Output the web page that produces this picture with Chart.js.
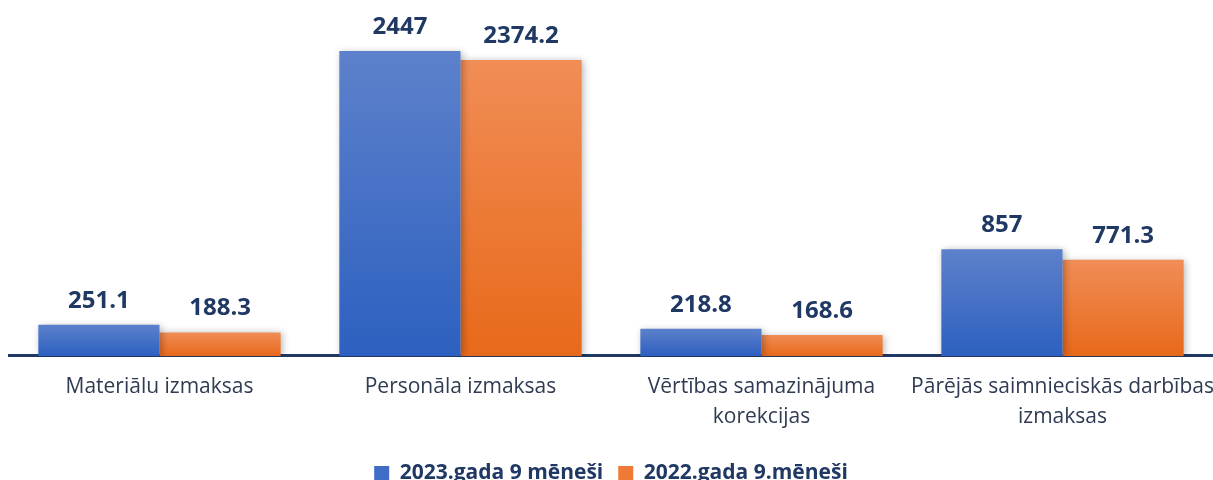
<!DOCTYPE html>
<html>
<head>
<meta charset="utf-8">
<script src="https://cdn.jsdelivr.net/npm/chart.js@4.4.0/dist/chart.umd.js"></script>
<style>
  html, body { margin: 0; padding: 0; background: #fff; overflow: hidden; }
  #wrap { position: relative; width: 1213px; height: 494px; }
</style>
</head>
<body>
<div id="wrap"><canvas id="chart"></canvas></div>
<script>
const categories = [
    'Materiālu izmaksas',
    'Personāla izmaksas',
    ['Vērtības samazinājuma', 'korekcijas'],
    ['Pārējās saimnieciskās darbības', 'izmaksas']
];
const series2023 = [251.1, 2447, 218.8, 857];
const series2022 = [188.3, 2374.2, 168.6, 771.3];
const seriesNames = ['2023.gada 9 mēneši', '2022.gada 9.mēneši'];

const navy = '#203864';
const fontFamily = "'Open Sans', sans-serif";

// vertical gradient per bar, from its top down to the axis
function barGradient(top, bottom) {
    return (context) => {
        const chart = context.chart;
        if (!chart.chartArea || context.raw === undefined) return bottom;
        const y = chart.scales.y;
        const yTop = y.getPixelForValue(context.raw);
        const yBot = y.getPixelForValue(0);
        const g = chart.ctx.createLinearGradient(0, yTop, 0, yBot);
        g.addColorStop(0, top);
        g.addColorStop(1, bottom);
        return g;
    };
}

const barShadow = {
    id: 'barShadow',
    beforeDatasetDraw(chart) {
        const ctx = chart.ctx;
        ctx.save();
        ctx.shadowColor = 'rgba(0, 0, 0, 0.28)';
        ctx.shadowBlur = 7;
        ctx.shadowOffsetX = 2;
        ctx.shadowOffsetY = 1;
    },
    afterDatasetDraw(chart) {
        chart.ctx.restore();
    }
};

const valueLabels = {
    id: 'valueLabels',
    afterDatasetsDraw(chart) {
        const ctx = chart.ctx;
        ctx.save();
        ctx.font = 'bold 24px ' + fontFamily;
        ctx.fillStyle = navy;
        ctx.textAlign = 'center';
        ctx.textBaseline = 'alphabetic';
        chart.data.datasets.forEach((ds, i) => {
            chart.getDatasetMeta(i).data.forEach((bar, j) => {
                ctx.fillText(String(ds.data[j]), bar.x, bar.y - 17);
            });
        });
        ctx.restore();
    }
};

new Chart(document.getElementById('chart'), {
    type: 'bar',
    data: {
        labels: categories,
        datasets: [
            {
                label: seriesNames[0],
                data: series2023,
                backgroundColor: barGradient('#5d81cb', '#2d60c0')
            },
            {
                label: seriesNames[1],
                data: series2022,
                backgroundColor: barGradient('#f18d56', '#e8691a')
            }
        ]
    },
    options: {
        responsive: true,
        maintainAspectRatio: false,
        animation: false,
        layout: { padding: { left: 9, right: 0, top: 0, bottom: 0 } },
        datasets: {
            bar: { categoryPercentage: 0.805, barPercentage: 1.0 }
        },
        plugins: {
            tooltip: { enabled: false },
            legend: {
                position: 'bottom',
                labels: {
                    color: navy,
                    font: { family: fontFamily, size: 21, weight: 'bold' },
                    boxWidth: 15,
                    boxHeight: 15,
                    padding: 15,
                    generateLabels(chart) {
                        const fills = ['#3f6cc6', '#ee7a35'];
                        return chart.data.datasets.map((ds, i) => ({
                            text: ds.label,
                            fillStyle: fills[i],
                            strokeStyle: fills[i],
                            lineWidth: 0,
                            fontColor: navy,
                            datasetIndex: i
                        }));
                    }
                }
            }
        },
        scales: {
            x: {
                grid: { display: false, drawTicks: false },
                border: { color: navy, width: 3 },
                // keep the plot full width even though the last label is long
                afterFit(scale) {
                    scale.paddingLeft = 0;
                    scale.paddingRight = 0;
                },
                ticks: {
                    color: '#2f3b52',
                    padding: 16,
                    maxRotation: 0,
                    autoSkip: false,
                    font: { family: fontFamily, size: 21, lineHeight: 1.43 }
                }
            },
            y: {
                display: false,
                min: 0,
                max: 2856
            }
        }
    },
    plugins: [barShadow, valueLabels]
});
</script>
</body>
</html>
